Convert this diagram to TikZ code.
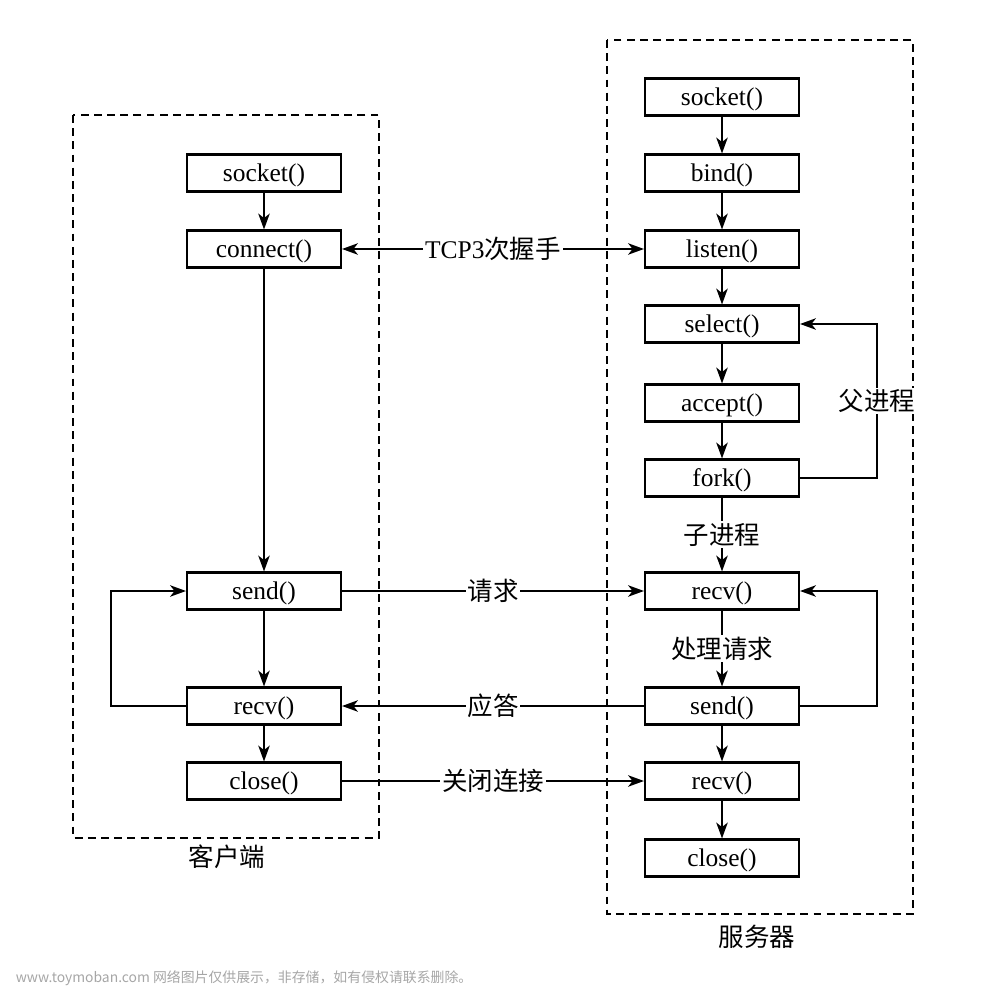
\documentclass[tikz,border=0pt]{standalone}
\usepackage{fontspec}
\usepackage{xcolor}
\usepackage{tikz}
\usetikzlibrary{arrows.meta}
\setmainfont{Liberation Serif}
\newfontfamily\cjk{Noto Sans CJK SC}
\newfontfamily\wmfont{Noto Sans CJK SC}

\begin{document}
\begin{tikzpicture}[x=0.02cm, y=-0.02cm, >={Stealth[length=9pt, width=6.5pt, inset=2.5pt]}, line width=1.1pt,
    font=\fontsize{14.5}{17}\selectfont,
    box/.style={draw, line width=1.2pt, minimum width=3.08cm, minimum height=0.74cm, inner sep=0pt, text height=2.6ex, text depth=0.5ex},
    tag/.style={fill=white, inner sep=1pt},
    frame/.style={draw, line width=1.2pt, dash pattern=on 4.5pt off 3pt}]
    \useasboundingbox (0, 0) rectangle (1000, 989);

    % dashed frames
    \draw[frame] (73, 115) rectangle (379, 838);
    \draw[frame] (607, 40) rectangle (913, 914);
    \node at (227, 857) (client) {\cjk 客户端};
    \node at (757, 937) (server) {\cjk 服务器};

    % client side
    \node[box] at (264, 173) (csocket) {socket()};
    \node[box] at (264, 249) (cconnect) {connect()};
    \node[box] at (264, 591) (csend) {send()};
    \node[box] at (264, 706) (crecv) {recv()};
    \node[box] at (264, 781) (cclose) {close()};

    % server side
    \node[box] at (722, 97) (ssocket) {socket()};
    \node[box] at (722, 173) (sbind) {bind()};
    \node[box] at (722, 249) (slisten) {listen()};
    \node[box] at (722, 324) (sselect) {select()};
    \node[box] at (722, 403) (saccept) {accept()};
    \node[box] at (722, 478) (sfork) {fork()};
    \node[box] at (722, 591) (srecv) {recv()};
    \node[box] at (722, 706) (ssend) {send()};
    \node[box] at (722, 781) (srecv2) {recv()};
    \node[box] at (722, 858) (sclose) {close()};

    \draw[->] (csocket) -- (cconnect);
    \draw[->] (cconnect) -- (csend);
    \draw[->] (csend) -- (crecv);
    \draw[->] (crecv) -- (cclose);
    \draw[->] (crecv.west) -- ++(-75, 0) |- (csend.west);

    \draw[->] (ssocket) -- (sbind);
    \draw[->] (sbind) -- (slisten);
    \draw[->] (slisten) -- (sselect);
    \draw[->] (sselect) -- (saccept);
    \draw[->] (saccept) -- (sfork);
    \draw[->] (sfork.east) -- ++(77, 0) |- node[tag, pos=0.25] {\cjk 父进程} (sselect.east);
    \draw[->] (sfork) -- node[tag] {\cjk 子进程} (srecv);
    \draw[->] (srecv) -- node[tag] {\cjk 处理请求} (ssend);
    \draw[->] (ssend.east) -- ++(77, 0) |- (srecv.east);
    \draw[->] (ssend) -- (srecv2);
    \draw[->] (srecv2) -- (sclose);

    % messages
    \draw[<->] (cconnect) -- node[tag] {TCP3{\cjk 次握手}} (slisten);
    \draw[->] (csend) -- node[tag] {\cjk 请求} (srecv);
    \draw[->] (ssend) -- node[tag] {\cjk 应答} (crecv);
    \draw[->] (cclose) -- node[tag] {\cjk 关闭连接} (srecv2);

    \node[anchor=west, text=gray!70, font=\wmfont\fontsize{7.9}{10}\selectfont] at (9, 978) (mark) {www.toymoban.com 网络图片仅供展示，非存储，如有侵权请联系删除。};
\end{tikzpicture}
\end{document}
